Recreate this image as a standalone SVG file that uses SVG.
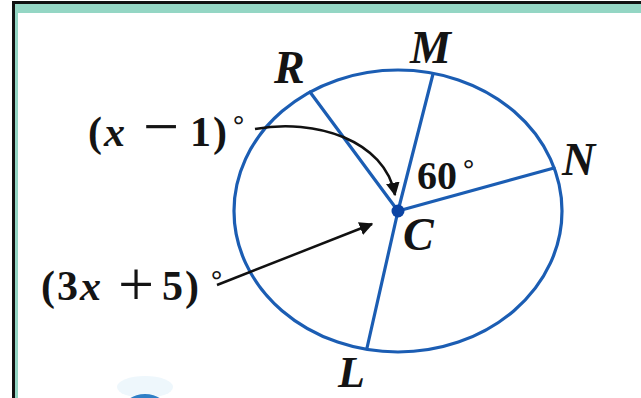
<svg xmlns="http://www.w3.org/2000/svg" width="641" height="398" viewBox="0 0 641 398">
<style>
.rad{stroke:#1b5db3;stroke-width:3.2;fill:none;stroke-linecap:round}
.arr{stroke:#111;stroke-width:2.5;fill:none}
.lbl{font-family:"Liberation Serif","Times New Roman",serif;font-weight:bold;font-style:italic;fill:#141414}
.num{font-family:"Liberation Serif","Times New Roman",serif;font-weight:bold;fill:#141414}
.op{font-weight:normal}
</style>
<defs>
<marker id="ah" viewBox="0 0 10 10" refX="9" refY="5" markerWidth="5.5" markerHeight="5.5" orient="auto" markerUnits="strokeWidth">
<path d="M0,0 L10,5 L0,10 Z" fill="#111"/>
</marker>
</defs>
<rect x="0" y="0" width="641" height="398" fill="#fff"/>
<g id="frame">
<rect x="12" y="1" width="629" height="3" fill="#111"/>
<rect x="15" y="4" width="626" height="9" fill="#94d6c4"/>
<rect x="12" y="1" width="3" height="397" fill="#111"/>
<rect x="15" y="4" width="3" height="394" fill="#94d6c4"/>
<ellipse cx="145" cy="387" rx="28" ry="11" fill="#eef7fc"/>
<ellipse cx="145" cy="410" rx="22" ry="16" fill="#2f7fc6"/>
</g>
<g id="circle">
<ellipse cx="398" cy="211" rx="164" ry="141" class="rad" stroke-width="3.8"/>
</g>
<g id="radii">
<line class="rad" x1="398" y1="211" x2="310" y2="92"/>
<line class="rad" x1="398" y1="211" x2="433" y2="74"/>
<line class="rad" x1="398" y1="211" x2="554" y2="168"/>
<line class="rad" x1="398" y1="211" x2="367" y2="348"/>
</g>
<g id="C">
<circle cx="398" cy="211" r="6.5" fill="#0c44a3"/>
<text class="lbl" x="403" y="250" font-size="46">C</text>
</g>
<g id="R"><text class="lbl" x="274" y="83" font-size="46">R</text></g>
<g id="M"><text class="lbl" x="410" y="63" font-size="46">M</text></g>
<g id="N"><text class="lbl" x="562" y="175" font-size="46">N</text></g>
<g id="L"><text class="lbl" x="338" y="387" font-size="44">L</text></g>
<g id="angle60"><text class="num" x="417" y="189" font-size="40">60<tspan x="463" y="178" font-size="28">°</tspan></text></g>
<g id="label1">
<text class="num" font-size="42" y="146"><tspan x="88">(</tspan><tspan x="104" font-style="italic">x</tspan><tspan class="op" x="143" y="148" font-size="64">−</tspan><tspan x="190" y="146">1</tspan><tspan x="213">)</tspan><tspan x="233" y="134" font-size="28">°</tspan></text>
</g>
<g id="label2">
<text class="num" font-size="42" y="300"><tspan x="41">(</tspan><tspan x="57">3</tspan><tspan x="80" font-style="italic">x</tspan><tspan class="op" x="118" y="306" font-size="64">+</tspan><tspan x="162" y="300">5</tspan><tspan x="185">)</tspan><tspan x="211" y="289" font-size="28">°</tspan></text>
</g>
<g id="connectors">
<path class="arr" d="M255,129 C315,118 385,140 395,195" marker-end="url(#ah)"/>
<line class="arr" x1="217" y1="285" x2="372" y2="224" marker-end="url(#ah)"/>
</g>
</svg>
